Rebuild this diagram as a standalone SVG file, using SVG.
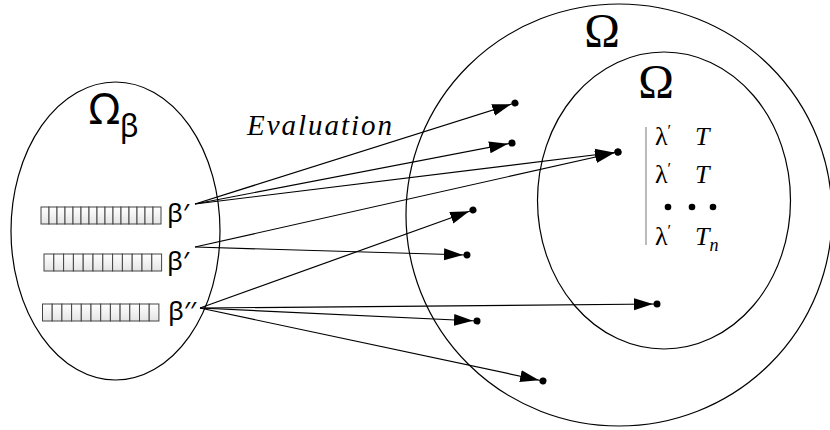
<svg xmlns="http://www.w3.org/2000/svg" width="830" height="430" viewBox="0 0 830 430">
<defs>
<linearGradient id="cellg" x1="0" y1="0" x2="0" y2="1">
<stop offset="0" stop-color="#ffffff"/>
<stop offset="1" stop-color="#e4e4e4"/>
</linearGradient>
<marker id="ad" markerUnits="userSpaceOnUse" markerWidth="30" markerHeight="16" viewBox="0 -8 30 16" refX="23" refY="0" orient="auto">
<path d="M0,-6 L19,0 L0,6 Z" fill="#000"/>
<circle cx="23" cy="0" r="3.5" fill="#000"/>
</marker>
</defs>
<style>
.set{fill:none;stroke:#000;stroke-width:1.2}
.cell{fill:url(#cellg);stroke:#444;stroke-width:1}
.lbl{font-family:"Noto Sans","DejaVu Sans",sans-serif;fill:#000}
.ser{font-family:"Liberation Serif","DejaVu Serif",serif;fill:#000}
.it{font-family:"Liberation Serif","DejaVu Serif",serif;font-style:italic;fill:#000}
.arr{fill:none;stroke:#000;stroke-width:1.2;marker-end:url(#ad)}
</style>
<rect width="830" height="430" fill="#fff"/>

<g id="omega-beta">
<ellipse class="set" cx="115.5" cy="231" rx="104.5" ry="149"/>
<text class="lbl" x="89" y="124" font-size="43">Ω<tspan font-size="31" dy="13">β</tspan></text>
</g>

<g id="omega-outer">
<ellipse class="set" cx="619" cy="215" rx="213" ry="211"/>
<text class="ser" x="602" y="47" font-size="48" text-anchor="middle">Ω</text>
</g>

<g id="omega-inner">
<ellipse class="set" cx="664" cy="200.5" rx="126.5" ry="148.5"/>
<text class="ser" x="656" y="98" font-size="48" text-anchor="middle">Ω</text>
<line x1="646" y1="127" x2="646" y2="245" stroke="#aaa" stroke-width="1.6"/>
<text class="ser" x="655" y="145" font-size="26">λ<tspan font-size="16" dy="-9">′</tspan></text>
<text class="it" x="695" y="145" font-size="26">T</text>
<text class="ser" x="655" y="183" font-size="26">λ<tspan font-size="16" dy="-9">′</tspan></text>
<text class="it" x="695" y="183" font-size="26">T</text>
<circle cx="668" cy="207" r="3.3"/>
<circle cx="692" cy="207" r="3.3"/>
<circle cx="713" cy="207" r="3.3"/>
<text class="ser" x="655" y="245" font-size="26">λ<tspan font-size="16" dy="-9">′</tspan></text>
<text class="it" x="695" y="245" font-size="26">T<tspan font-size="18" dy="6">n</tspan></text>
</g>

<g id="beta1">
<g transform="translate(41,207)">
<rect class="cell" x="0" width="8" height="17"/><rect class="cell" x="8" width="8" height="17"/><rect class="cell" x="16" width="8" height="17"/><rect class="cell" x="24" width="8" height="17"/><rect class="cell" x="32" width="8" height="17"/><rect class="cell" x="40" width="8" height="17"/><rect class="cell" x="48" width="8" height="17"/><rect class="cell" x="56" width="8" height="17"/><rect class="cell" x="64" width="8" height="17"/><rect class="cell" x="72" width="8" height="17"/><rect class="cell" x="80" width="8" height="17"/><rect class="cell" x="88" width="8" height="17"/><rect class="cell" x="96" width="8" height="17"/><rect class="cell" x="104" width="8" height="17"/><rect class="cell" x="112" width="8" height="17"/>
</g>
<text class="lbl" x="167" y="222" font-size="26">β′</text>
</g>

<g id="beta2">
<g transform="translate(44,254)">
<rect class="cell" x="0" width="9.8" height="17"/><rect class="cell" x="9.8" width="9.8" height="17"/><rect class="cell" x="19.6" width="9.8" height="17"/><rect class="cell" x="29.4" width="9.8" height="17"/><rect class="cell" x="39.2" width="9.8" height="17"/><rect class="cell" x="49" width="9.8" height="17"/><rect class="cell" x="58.8" width="9.8" height="17"/><rect class="cell" x="68.6" width="9.8" height="17"/><rect class="cell" x="78.4" width="9.8" height="17"/><rect class="cell" x="88.2" width="9.8" height="17"/><rect class="cell" x="98" width="9.8" height="17"/><rect class="cell" x="107.8" width="9.8" height="17"/>
</g>
<text class="lbl" x="167" y="270" font-size="26">β′</text>
</g>

<g id="beta3">
<g transform="translate(42.5,304)">
<rect class="cell" x="0" width="9.7" height="17"/><rect class="cell" x="9.7" width="9.7" height="17"/><rect class="cell" x="19.4" width="9.7" height="17"/><rect class="cell" x="29.1" width="9.7" height="17"/><rect class="cell" x="38.8" width="9.7" height="17"/><rect class="cell" x="48.5" width="9.7" height="17"/><rect class="cell" x="58.2" width="9.7" height="17"/><rect class="cell" x="67.9" width="9.7" height="17"/><rect class="cell" x="77.6" width="9.7" height="17"/><rect class="cell" x="87.3" width="9.7" height="17"/><rect class="cell" x="97" width="9.7" height="17"/><rect class="cell" x="106.7" width="9.7" height="17"/>
</g>
<text class="lbl" x="168" y="320" font-size="26">β′′</text>
</g>

<text id="evaluation" class="it" x="247" y="135" font-size="29" textLength="145" lengthAdjust="spacing">Evaluation</text>

<g id="connectors">
<line class="arr" x1="195" y1="204" x2="515" y2="103"/>
<line class="arr" x1="195" y1="204" x2="512" y2="143"/>
<line class="arr" x1="195" y1="204" x2="618" y2="152"/>
<line class="arr" x1="195" y1="247" x2="618" y2="152"/>
<line class="arr" x1="195" y1="247" x2="467" y2="255"/>
<line class="arr" x1="200" y1="308" x2="473" y2="210"/>
<line class="arr" x1="200" y1="308" x2="657" y2="304"/>
<line class="arr" x1="200" y1="308" x2="477" y2="321"/>
<line class="arr" x1="200" y1="308" x2="543" y2="381"/>
</g>
</svg>
